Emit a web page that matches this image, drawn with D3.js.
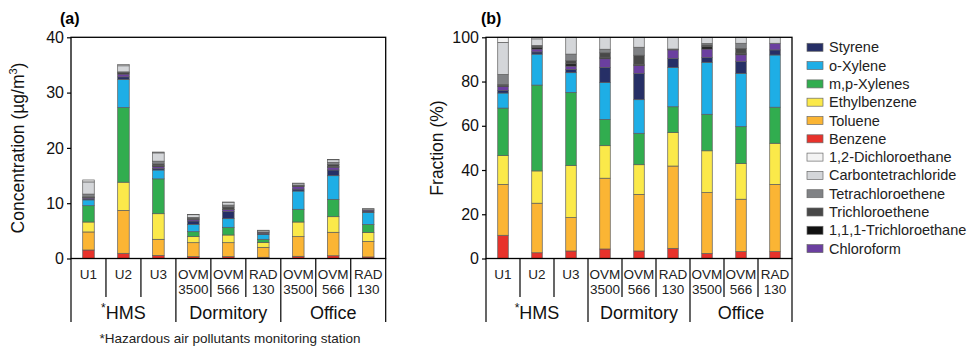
<!DOCTYPE html>
<html>
<head>
<meta charset="utf-8">
<script src="https://cdn.jsdelivr.net/npm/d3@7"></script>
<style>
  body { margin: 0; background: #fff; }
  svg { font-family: "Liberation Sans", Arial, sans-serif; }
</style>
</head>
<body>
<div id="chart"></div>
<script>
// stack order, bottom to top
const species = ["Benzene", "Toluene", "Ethylbenzene", "m,p-Xylenes", "o-Xylene", "Styrene",
    "Chloroform", "1,1,1-Trichloroethane", "Trichloroethene", "Tetrachloroethene",
    "Carbontetrachloride", "1,2-Dichloroethane"];
const colors = ["#e8322b", "#fbb534", "#fbe94a", "#31ad4f", "#1eaee6", "#262f66",
    "#6b3fa0", "#111111", "#484848", "#808285", "#d4d6d9", "#f3f3f3"];
const legendOrder = ["Styrene", "o-Xylene", "m,p-Xylenes", "Ethylbenzene", "Toluene", "Benzene",
    "1,2-Dichloroethane", "Carbontetrachloride", "Tetrachloroethene", "Trichloroethene",
    "1,1,1-Trichloroethane", "Chloroform"];

const siteLine1 = ["U1", "U2", "U3", "OVM", "OVM", "RAD", "OVM", "OVM", "RAD"];
const siteLine2 = ["", "", "", "3500", "566", "130", "3500", "566", "130"];
const groups = ["HMS", "Dormitory", "Office"];

const concTicks = [0, 10, 20, 30, 40];
const fracTicks = [0, 20, 40, 60, 80, 100];

// (a) concentration, ug/m3, one value per site
const benzeneConc  = [1.54, 0.94, 0.57, 0.33, 0.33, 0.22, 0.40, 0.50, 0.28];
const tolueneConc  = [3.26, 7.76, 2.90, 2.53, 2.53, 1.80, 3.55, 4.24, 2.80];
const ethylbConc   = [1.80, 5.10, 4.63, 1.09, 1.39, 0.90, 2.65, 2.82, 1.64];
const mpXyleneConc = [2.95, 13.5, 6.30, 0.90, 1.39, 0.55, 2.30, 3.14, 1.44];
const oXyleneConc  = [1.05, 5.10, 1.60, 1.33, 1.56, 0.85, 3.30, 4.27, 2.17];
const styreneConc  = [0.20, 0.45, 0.30, 0.60, 1.30, 0.25, 0.35, 1.03, 0.25];
const chloroConc   = [0.20, 0.50, 0.30, 0.30, 0.35, 0.20, 0.45, 0.50, 0.20];
const tcaConc      = [0.05, 0.20, 0.20, 0.06, 0.06, 0.00, 0.12, 0.12, 0.00];
const triConc      = [0.10, 0.10, 0.30, 0.15, 0.40, 0.02, 0.10, 0.35, 0.00];
const tetraConc    = [0.50, 0.10, 0.50, 0.13, 0.35, 0.02, 0.08, 0.42, 0.00];
const ccl4Conc     = [2.20, 1.10, 1.50, 0.50, 0.50, 0.28, 0.30, 0.47, 0.20];
const dceConc      = [0.35, 0.25, 0.15, 0.05, 0.05, 0.02, 0.02, 0.03, 0.02];

// (b) fraction, %
const benzeneFrac  = [10.5, 2.6, 3.4, 4.3, 3.4, 4.6, 2.3, 3.1, 3.1];
const tolueneFrac  = [23.0, 22.4, 15.1, 32.0, 25.6, 37.2, 27.5, 23.7, 30.4];
const ethylbFrac   = [13.0, 14.6, 23.5, 14.7, 13.4, 15.1, 18.9, 16.1, 18.6];
const mpXyleneFrac = [21.5, 38.8, 33.1, 11.9, 14.2, 11.7, 16.5, 16.7, 16.3];
const oXyleneFrac  = [6.8, 14.0, 8.9, 16.6, 15.2, 17.7, 23.5, 24.1, 23.6];
const styreneFrac  = [1.2, 1.0, 1.5, 6.9, 11.9, 4.2, 2.1, 5.3, 2.3];
const chloroFrac   = [1.7, 1.3, 1.5, 3.9, 3.5, 3.8, 3.9, 3.1, 3.0];
const tcaFrac      = [0.4, 0.8, 1.0, 0.7, 0.6, 0.0, 1.0, 0.7, 0.0];
const triFrac      = [0.6, 0.5, 1.4, 2.0, 4.1, 0.2, 0.8, 2.2, 0.0];
const tetraFrac    = [4.5, 0.3, 3.0, 1.6, 3.6, 0.2, 0.7, 2.3, 0.0];
const ccl4Frac     = [14.5, 3.0, 7.6, 5.4, 4.5, 5.3, 2.8, 2.7, 2.7];
const dceFrac      = [2.3, 0.7, 0.0, 0.0, 0.0, 0.0, 0.0, 0.0, 0.0];

const concSeries = [benzeneConc, tolueneConc, ethylbConc, mpXyleneConc, oXyleneConc, styreneConc,
    chloroConc, tcaConc, triConc, tetraConc, ccl4Conc, dceConc];
const fracSeries = [benzeneFrac, tolueneFrac, ethylbFrac, mpXyleneFrac, oXyleneFrac, styreneFrac,
    chloroFrac, tcaFrac, triFrac, tetraFrac, ccl4Frac, dceFrac];

const width = 978, height = 349;
const svg = d3.select("#chart").append("svg")
    .attr("width", width)
    .attr("height", height);

const color = d3.scaleOrdinal(species, colors);

const toRows = (series) => siteLine1.map((s, i) => {
    const row = {site: i};
    species.forEach((k, j) => row[k] = series[j][i]);
    return row;
});

drawPanel = (opt) => {
    const top = 37.3, bottom = 258.5;
    const x = d3.scaleBand()
        .domain(d3.range(siteLine1.length))
        .range([opt.left, opt.right])
        .paddingInner(0)
        .paddingOuter(0);
    const y = d3.scaleLinear()
        .domain([0, opt.max])
        .range([bottom, top]);

    const stacked = d3.stack().keys(species)(toRows(opt.series));
    const bw = x.bandwidth() * opt.barFrac;

    const g = svg.append("g");
    g.selectAll("g.layer")
        .data(stacked)
        .enter().append("g")
        .attr("class", "layer")
        .attr("fill", d => color(d.key))
        .selectAll("rect")
        .data(d => d)
        .enter().append("rect")
        .attr("x", d => x(d.data.site) + (x.bandwidth() - bw) / 2)
        .attr("y", d => y(d[1]))
        .attr("width", bw)
        .attr("height", d => Math.max(0, y(d[0]) - y(d[1])))
        .attr("stroke", "#5c5c5c")
        .attr("stroke-width", d => (d[1] - d[0]) > 0 ? 0.7 : 0);

    // frame
    g.append("rect")
        .attr("x", opt.left).attr("y", top)
        .attr("width", opt.right - opt.left).attr("height", bottom - top)
        .attr("fill", "none").attr("stroke", "#000").attr("stroke-width", 1.3);

    const yAxis = g.append("g")
        .attr("transform", `translate(${opt.left},0)`)
        .call(d3.axisLeft(y).tickValues(opt.ticks).tickSize(4).tickPadding(3));
    yAxis.select(".domain").remove();
    yAxis.selectAll("line").attr("stroke", "#000").attr("stroke-width", 1.2);
    yAxis.selectAll("text").attr("font-size", 16).attr("fill", "#111")
        .attr("font-family", "Liberation Sans, Arial, sans-serif");

    // category separators below the axis
    d3.range(siteLine1.length + 1).forEach(i => {
        const xx = opt.left + x.step() * i;
        const isGroup = i % 3 === 0;
        g.append("line")
            .attr("x1", xx).attr("x2", xx)
            .attr("y1", bottom).attr("y2", isGroup ? 322 : 297)
            .attr("stroke", "#000").attr("stroke-width", 1.2);
    });

    g.selectAll("text.site1")
        .data(siteLine1)
        .enter().append("text")
        .attr("class", "site1")
        .attr("x", (d, i) => x(i) + x.bandwidth() / 2)
        .attr("y", 279)
        .attr("text-anchor", "middle")
        .attr("font-size", 13.5)
        .attr("fill", "#222")
        .text(d => d);

    g.selectAll("text.site2")
        .data(siteLine2)
        .enter().append("text")
        .attr("class", "site2")
        .attr("x", (d, i) => x(i) + x.bandwidth() / 2)
        .attr("y", 293.5)
        .attr("text-anchor", "middle")
        .attr("font-size", 13.5)
        .attr("fill", "#222")
        .text(d => d);

    groups.forEach((name, gi) => {
        const cx = opt.left + x.step() * (gi * 3 + 1.5);
        const t = g.append("text")
            .attr("x", cx)
            .attr("y", 319)
            .attr("text-anchor", "middle")
            .attr("font-size", 18)
            .attr("fill", "#111");
        if (gi === 0) {
            t.append("tspan").attr("font-size", 12).attr("dy", -7).text("*");
            t.append("tspan").attr("dy", 7).text(name);
        } else {
            t.text(name);
        }
    });

    g.append("text")
        .attr("x", opt.labelX)
        .attr("y", 24)
        .attr("font-size", 16)
        .attr("font-weight", "bold")
        .attr("fill", "#000")
        .text(opt.label);

    return g;
};

const ga = drawPanel({left: 71, right: 385.7, max: 40, ticks: concTicks, series: concSeries,
    barFrac: 0.33, label: "(a)", labelX: 60});
const gb = drawPanel({left: 486, right: 792, max: 100, ticks: fracTicks, series: fracSeries,
    barFrac: 0.31, label: "(b)", labelX: 481});

// axis titles
const ta = svg.append("text")
    .attr("transform", "translate(24,148) rotate(-90)")
    .attr("text-anchor", "middle")
    .attr("font-size", 17.5)
    .attr("fill", "#111");
ta.append("tspan").text("Concentration (µg/m");
ta.append("tspan").attr("font-size", 11).attr("dy", -7).text("3");
ta.append("tspan").attr("dy", 7).text(")");

svg.append("text")
    .attr("transform", "translate(443,148) rotate(-90)")
    .attr("text-anchor", "middle")
    .attr("font-size", 17.5)
    .attr("fill", "#111")
    .text("Fraction (%)");

svg.append("text")
    .attr("x", 230)
    .attr("y", 343)
    .attr("text-anchor", "middle")
    .attr("font-size", 13.5)
    .attr("fill", "#222")
    .text("*Hazardous air pollutants monitoring station");

// legend
const legend = svg.append("g").attr("transform", "translate(807,47.3)");
legendOrder.forEach((name, i) => {
    const row = legend.append("g").attr("transform", `translate(0,${i * 18.3})`);
    row.append("rect")
        .attr("x", 0).attr("y", -4)
        .attr("width", 16).attr("height", 8)
        .attr("fill", color(name))
        .attr("stroke", "#6a6a6a")
        .attr("stroke-width", 0.7);
    row.append("text")
        .attr("x", 22).attr("y", 5)
        .attr("font-size", 14.5)
        .attr("fill", "#222")
        .text(name);
});
</script>
</body>
</html>
